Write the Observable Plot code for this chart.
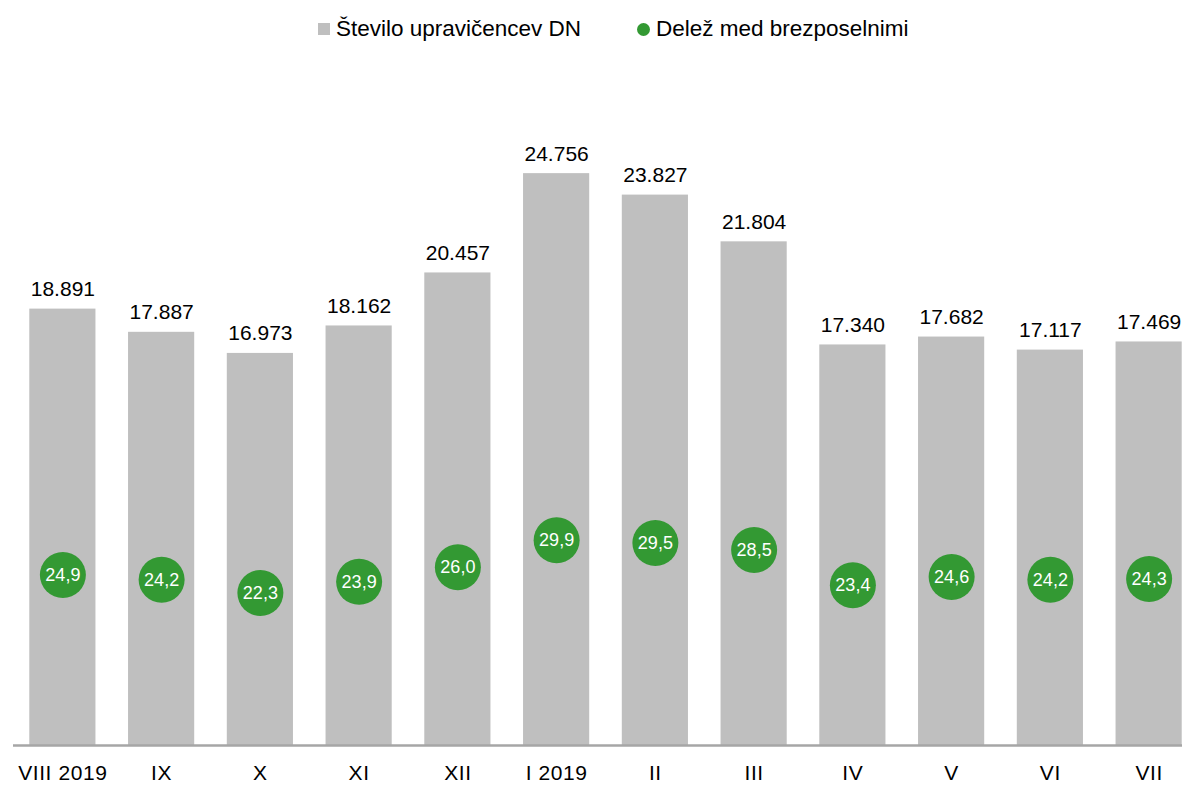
<!DOCTYPE html>
<html>
<head>
<meta charset="utf-8">
<script src="https://cdn.jsdelivr.net/npm/d3@7"></script>
<script src="https://cdn.jsdelivr.net/npm/@observablehq/plot@0.6"></script>
<style>
  html, body { margin: 0; padding: 0; background: #fff; overflow: hidden; width: 1182px; height: 785px; }
  body { font-family: "Liberation Sans", Arial, sans-serif; position: relative; }
  #legend { position: relative; height: 50px; font-size: 22.5px; color: #000; }
  .item { position: absolute; top: 16px; display: flex; align-items: center; white-space: nowrap; }
  .sq { width: 12px; height: 12px; background: #bfbfbf; margin-right: 6px; }
  .dt { width: 13px; height: 13px; border-radius: 50%; background: #339933; margin-right: 6px; }
  #chart { width: 1182px; overflow: hidden; }
  #chart svg { display: block; max-width: none !important; width: 1200px; height: 735px; }
  #chart svg g[aria-label="x-axis tick label"] text { letter-spacing: 0.6px; }
</style>
</head>
<body>
<div id="legend">
  <div class="item" style="left:318px"><span class="sq"></span><span>Število upravičencev DN</span></div>
  <div class="item" style="left:637px"><span class="dt"></span><span>Delež med brezposelnimi</span></div>
</div>
<div id="chart"></div>
<script>
const months = ["VIII 2019", "IX", "X", "XI", "XII", "I 2019", "II", "III", "IV", "V", "VI", "VII"];
const recipients = [18891, 17887, 16973, 18162, 20457, 24756, 23827, 21804, 17340, 17682, 17117, 17469];
const shares = [24.9, 24.2, 22.3, 23.9, 26.0, 29.9, 29.5, 28.5, 23.4, 24.6, 24.2, 24.3];

const loc = d3.formatLocale({decimal: ",", thousands: ".", grouping: [3], currency: ["", " €"]});
const fmtInt = loc.format(",d");
const fmtShare = loc.format(".1f");

// share axis (0–100 %) is drawn against the count axis (0–30000)
const shareToCount = 30000 / 100;

const data = months.map((m, i) => ({month: m, n: recipients[i], share: shares[i], yShare: shares[i] * shareToCount}));

const chart = Plot.plot({
  width: 1200,
  height: 735,
  marginTop: 2,
  marginBottom: 40,
  marginLeft: 13,
  marginRight: 2,
  style: {fontFamily: "'Liberation Sans', Arial, sans-serif", fontSize: "20px", color: "#000", background: "#fff"},
  x: {domain: months, paddingInner: 0.33, paddingOuter: 0.165, round: false},
  y: {domain: [0, 30000], axis: null},
  marks: [
    Plot.barY(data, {x: "month", y: "n", fill: "#bfbfbf"}),
    Plot.ruleY([0], {stroke: "#a6a6a6", strokeWidth: 2.5}),
    Plot.text(data, {x: "month", y: "n", text: d => fmtInt(d.n), lineAnchor: "bottom", dy: -13, fontSize: 21, fill: "#000"}),
    Plot.dot(data, {x: "month", y: "yShare", r: 23, fill: "#339933", dy: 2}),
    Plot.text(data, {x: "month", y: "yShare", text: d => fmtShare(d.share), dy: 2, fontSize: 18, fill: "#fff"}),
    Plot.axisX({tickSize: 0, tickPadding: 20, fontSize: 21, fill: "#000", label: null})
  ]
});
document.getElementById("chart").appendChild(chart);
</script>
</body>
</html>
